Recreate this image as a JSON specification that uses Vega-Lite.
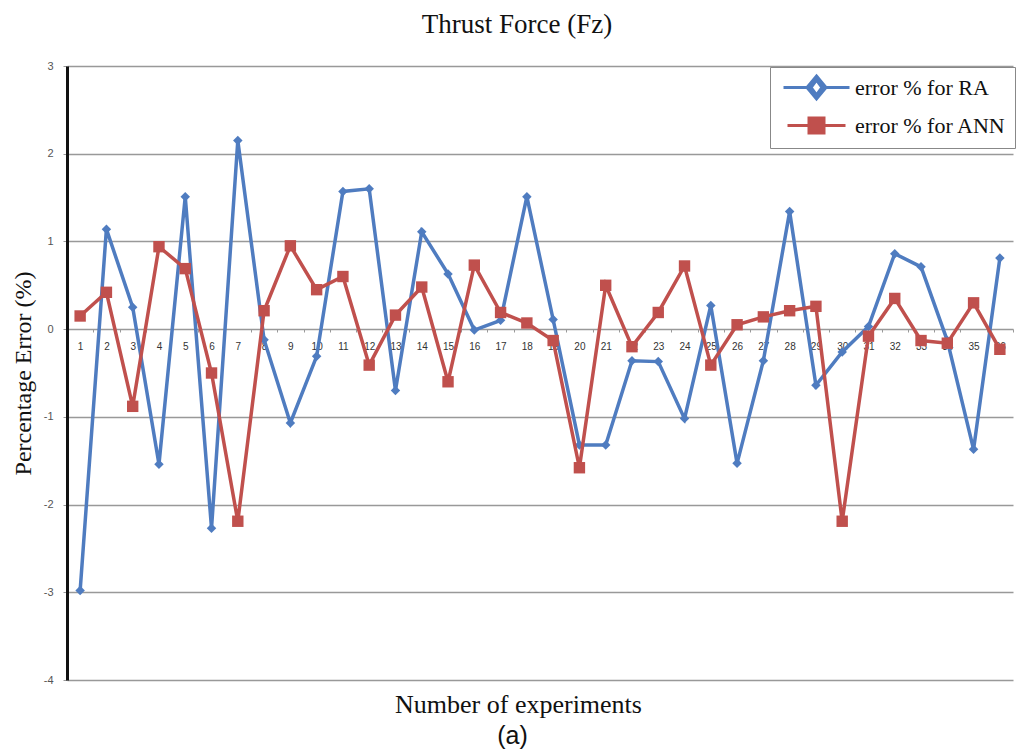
{
  "$schema": "https://vega.github.io/schema/vega-lite/v6.json",
  "width": 946,
  "height": 614,
  "autosize": "none",
  "padding": {"left": 67, "top": 66, "right": 4, "bottom": 71},
  "background": "white",
  "title": {
    "text": "Thrust Force (Fz)",
    "font": "Liberation Serif",
    "fontSize": 27,
    "fontWeight": "normal",
    "color": "#111",
    "anchor": "middle",
    "baseline": "alphabetic",
    "dx": -23,
    "offset": 0
  },
  "config": {
    "view": {"stroke": null},
    "axis": {"labelFont": "Liberation Sans", "titleFont": "Liberation Serif", "titleFontWeight": "normal", "titleColor": "#111"}
  },
  "data": {
    "values": [
      {"x": 1, "series": "error % for RA", "v": -2.98}, {"x": 2, "series": "error % for RA", "v": 1.14},
      {"x": 3, "series": "error % for RA", "v": 0.25}, {"x": 4, "series": "error % for RA", "v": -1.54},
      {"x": 5, "series": "error % for RA", "v": 1.51}, {"x": 6, "series": "error % for RA", "v": -2.27},
      {"x": 7, "series": "error % for RA", "v": 2.15}, {"x": 8, "series": "error % for RA", "v": -0.12},
      {"x": 9, "series": "error % for RA", "v": -1.07}, {"x": 10, "series": "error % for RA", "v": -0.31},
      {"x": 11, "series": "error % for RA", "v": 1.57}, {"x": 12, "series": "error % for RA", "v": 1.6},
      {"x": 13, "series": "error % for RA", "v": -0.7}, {"x": 14, "series": "error % for RA", "v": 1.11},
      {"x": 15, "series": "error % for RA", "v": 0.63}, {"x": 16, "series": "error % for RA", "v": -0.01},
      {"x": 17, "series": "error % for RA", "v": 0.1}, {"x": 18, "series": "error % for RA", "v": 1.51},
      {"x": 19, "series": "error % for RA", "v": 0.11}, {"x": 20, "series": "error % for RA", "v": -1.32},
      {"x": 21, "series": "error % for RA", "v": -1.32}, {"x": 22, "series": "error % for RA", "v": -0.36},
      {"x": 23, "series": "error % for RA", "v": -0.37}, {"x": 24, "series": "error % for RA", "v": -1.02},
      {"x": 25, "series": "error % for RA", "v": 0.27}, {"x": 26, "series": "error % for RA", "v": -1.53},
      {"x": 27, "series": "error % for RA", "v": -0.36}, {"x": 28, "series": "error % for RA", "v": 1.34},
      {"x": 29, "series": "error % for RA", "v": -0.64}, {"x": 30, "series": "error % for RA", "v": -0.26},
      {"x": 31, "series": "error % for RA", "v": 0.03}, {"x": 32, "series": "error % for RA", "v": 0.86},
      {"x": 33, "series": "error % for RA", "v": 0.71}, {"x": 34, "series": "error % for RA", "v": -0.13},
      {"x": 35, "series": "error % for RA", "v": -1.37}, {"x": 36, "series": "error % for RA", "v": 0.81},
      {"x": 1, "series": "error % for ANN", "v": 0.15}, {"x": 2, "series": "error % for ANN", "v": 0.42},
      {"x": 3, "series": "error % for ANN", "v": -0.88}, {"x": 4, "series": "error % for ANN", "v": 0.94},
      {"x": 5, "series": "error % for ANN", "v": 0.69}, {"x": 6, "series": "error % for ANN", "v": -0.5},
      {"x": 7, "series": "error % for ANN", "v": -2.19}, {"x": 8, "series": "error % for ANN", "v": 0.21},
      {"x": 9, "series": "error % for ANN", "v": 0.95}, {"x": 10, "series": "error % for ANN", "v": 0.45},
      {"x": 11, "series": "error % for ANN", "v": 0.6}, {"x": 12, "series": "error % for ANN", "v": -0.41},
      {"x": 13, "series": "error % for ANN", "v": 0.16}, {"x": 14, "series": "error % for ANN", "v": 0.48},
      {"x": 15, "series": "error % for ANN", "v": -0.6}, {"x": 16, "series": "error % for ANN", "v": 0.73},
      {"x": 17, "series": "error % for ANN", "v": 0.19}, {"x": 18, "series": "error % for ANN", "v": 0.07},
      {"x": 19, "series": "error % for ANN", "v": -0.13}, {"x": 20, "series": "error % for ANN", "v": -1.58},
      {"x": 21, "series": "error % for ANN", "v": 0.5}, {"x": 22, "series": "error % for ANN", "v": -0.2},
      {"x": 23, "series": "error % for ANN", "v": 0.19}, {"x": 24, "series": "error % for ANN", "v": 0.72},
      {"x": 25, "series": "error % for ANN", "v": -0.41}, {"x": 26, "series": "error % for ANN", "v": 0.05},
      {"x": 27, "series": "error % for ANN", "v": 0.14}, {"x": 28, "series": "error % for ANN", "v": 0.21},
      {"x": 29, "series": "error % for ANN", "v": 0.26}, {"x": 30, "series": "error % for ANN", "v": -2.19},
      {"x": 31, "series": "error % for ANN", "v": -0.08}, {"x": 32, "series": "error % for ANN", "v": 0.35},
      {"x": 33, "series": "error % for ANN", "v": -0.13}, {"x": 34, "series": "error % for ANN", "v": -0.16},
      {"x": 35, "series": "error % for ANN", "v": 0.3}, {"x": 36, "series": "error % for ANN", "v": -0.23}
    ]
  },
  "resolve": {"axis": {"x": "independent"}},
  "layer": [
    {
      "transform": [{"filter": "datum.series === 'error % for RA'"}],
      "mark": {
        "type": "line",
        "strokeWidth": 3.5,
        "point": {"shape": "diamond", "filled": true, "size": 90}
      },
      "encoding": {
        "x": {
          "field": "x",
          "type": "ordinal",
          "scale": {"paddingInner": 0, "paddingOuter": 0},
          "axis": {
            "orient": "bottom",
            "offset": -351,
            "labelAngle": 0,
            "labelFontSize": 10,
            "labelColor": "#333",
            "labelPadding": 9,
            "ticks": true,
            "tickBand": "extent",
            "tickSize": 3,
            "tickColor": "#999",
            "domain": false,
            "grid": false,
            "title": "Number of experiments",
            "titleFontSize": 26,
            "titleBaseline": "alphabetic",
            "titleAlign": "center",
            "titleX": 451,
            "titleY": 383
          }
        },
        "y": {
          "field": "v",
          "type": "quantitative",
          "scale": {"domain": [-4, 3], "nice": false, "zero": false},
          "axis": {
            "values": [-4, -3, -2, -1, 0, 1, 2, 3],
            "labelExpr": "'' + datum.value",
            "labelFontSize": 11,
            "labelColor": "#555",
            "labelPadding": 10,
            "tickSize": 4,
            "tickColor": "#999",
            "domainColor": "#111",
            "domainWidth": 3,
            "gridColor": "#999",
            "gridWidth": 1.6,
            "title": "Percentage Error (%)",
            "titleFontSize": 24,
            "titleBaseline": "middle",
            "titleX": -44
          }
        },
        "color": {
          "field": "series",
          "type": "nominal",
          "scale": {"domain": ["error % for RA", "error % for ANN"], "range": ["#4F7CC0", "#C0504D"]},
          "legend": {
            "title": null,
            "orient": "none",
            "legendX": 703,
            "legendY": 1,
            "strokeColor": "#888",
            "fillColor": "white",
            "padding": 9,
            "rowPadding": 7,
            "symbolSize": 400,
            "symbolOffset": 26,
            "labelOffset": 27,
            "labelFont": "Liberation Serif",
            "labelFontSize": 22,
            "labelColor": "#111",
            "encode": {
              "symbols": {
                "update": {
                  "shape": {"signal": "datum.value === 'error % for RA' ? 'M-3.3,0H-0.95M0.95,0H3.3M0,-1.15L0.95,0L0,1.15L-0.95,0ZM0,-0.75L-0.55,0L0,0.75L0.55,0Z' : 'M-2.9,0H2.9M-0.75,-0.75H0.75V0.75H-0.75Z'"},
                  "strokeWidth": {"value": 3},
                  "opacity": {"value": 1}
                }
              }
            }
          }
        }
      }
    },
    {
      "transform": [{"filter": "datum.series === 'error % for ANN'"}],
      "mark": {
        "type": "line",
        "strokeWidth": 3.5,
        "point": {"shape": "square", "filled": true, "size": 130}
      },
      "encoding": {
        "x": {
          "field": "x",
          "type": "ordinal",
          "axis": {
            "orient": "bottom",
            "labels": false,
            "ticks": false,
            "domain": false,
            "grid": false,
            "title": "(a)",
            "titleFont": "Liberation Sans",
            "titleFontSize": 25,
            "titleBaseline": "alphabetic",
            "titleAlign": "center",
            "titleX": 445,
            "titleY": 63
          }
        },
        "y": {"field": "v", "type": "quantitative"},
        "color": {"field": "series", "type": "nominal"}
      }
    }
  ]
}
